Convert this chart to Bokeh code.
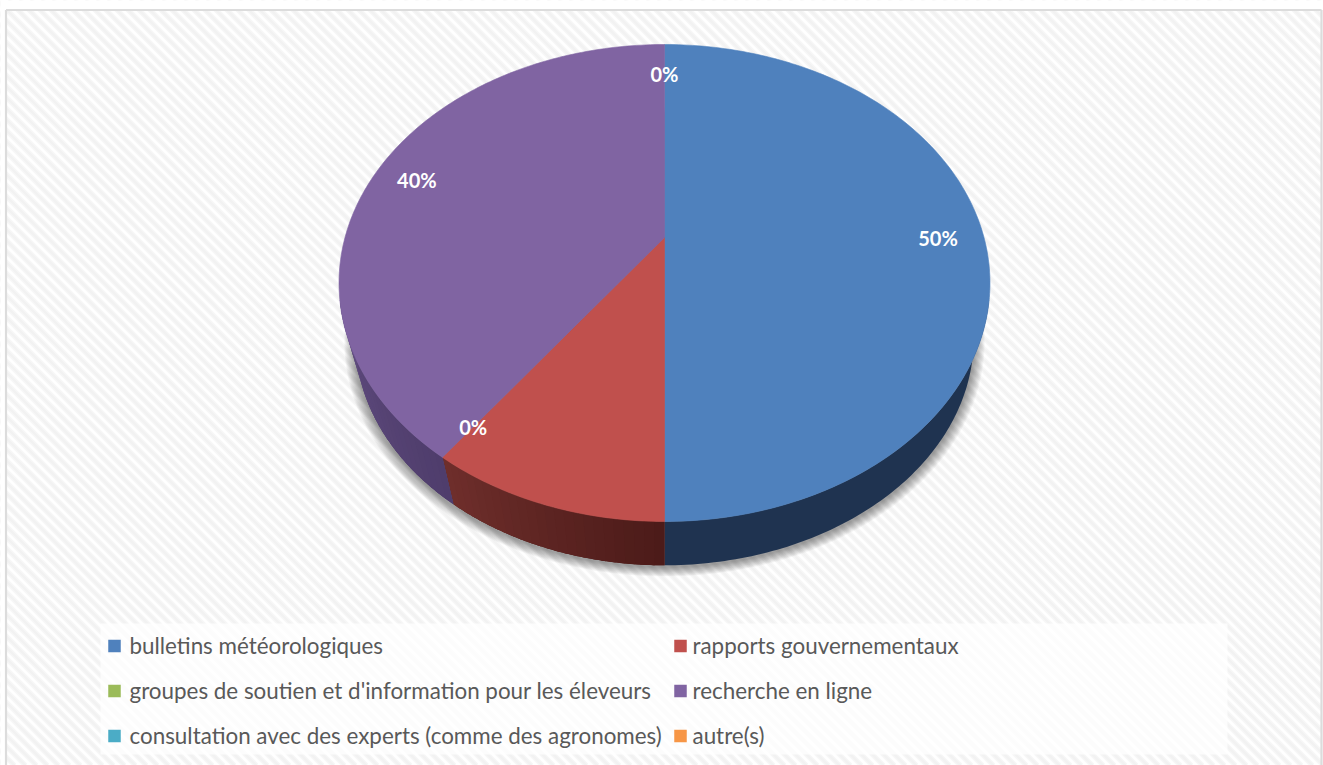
import numpy as np
from bokeh.core.properties import value
from bokeh.embed import file_html
from bokeh.models import Range1d
from bokeh.plotting import figure
from bokeh.resources import INLINE

WIDTH, HEIGHT = 1323, 765

# Survey shares, clockwise from twelve o'clock
categories = [
    "bulletins météorologiques",
    "rapports gouvernementaux",
    "groupes de soutien et d'information pour les éleveurs",
    "recherche en ligne",
    "consultation avec des experts (comme des agronomes)",
    "autre(s)",
]
shares = [50, 10, 0, 40, 0, 0]
top_colors = ["#4f81bd", "#c0504d", "#9bbb59", "#8064a2", "#4bacc6", "#f79646"]
side_near = ["#1f3350", "#4c1b19", "#5f7436", "#4f3d6c", "#2d6a7c", "#a3621f"]
side_far = ["#1f3350", "#702f2c", "#5f7436", "#5f4b7e", "#2d6a7c", "#a3621f"]

# Which slices carry a label, and how far out along their mid-angle it sits
label_radius = [0.856, None, 0.88, 0.856, 0.826, None]

# Tilted-disc projection of the pie
CX, CY = 664.0, 237.0
A, B, K = 319.5, 229.8, 0.1908
LOWER_SCALE, LOWER_CY = 0.95, 295.0
WALL_FROM, WALL_TO = np.radians(105), np.radians(255)
SHADE_SPAN = np.radians(36)


def project(theta, radius=1.0, scale=1.0, cy=CY):
    u = radius * np.sin(theta)
    v = radius * np.cos(theta)
    w = 1 + K * v
    return CX + scale * A * u / w, cy + scale * B * (-v) / w


def hex_rgb(h):
    return np.array([int(h[i:i + 2], 16) for i in (1, 3, 5)], dtype=float)


def mix(c1, c2, t):
    r, g, b = (hex_rgb(c1) * (1 - t) + hex_rgb(c2) * t).round().astype(int)
    return f"#{r:02x}{g:02x}{b:02x}"


p = figure(
    width=WIDTH, height=HEIGHT, output_backend="svg", toolbar_location=None,
    x_range=Range1d(0, WIDTH), y_range=Range1d(HEIGHT, 0),
    min_border=0, outline_line_color=None, background_fill_color="white",
    border_fill_color="white",
)
p.axis.visible = False
p.grid.visible = False

# Chart area: diagonal pinstripes inside a grey frame
FRAME_L, FRAME_T, FRAME_R = 5.5, 9.5, 1321.0
STRIPE_STEP = 11.0
starts = np.arange(-HEIGHT, WIDTH + STRIPE_STEP, STRIPE_STEP) + 3
p.segment(starts, [0] * len(starts), starts + HEIGHT, [HEIGHT] * len(starts),
          line_color="#f7f7f7", line_width=5.2)
p.segment(starts, [0] * len(starts), starts + HEIGHT, [HEIGHT] * len(starts),
          line_color="#f2f2f2", line_width=2.6)
p.quad(left=[0, 0, FRAME_R], right=[FRAME_L, WIDTH, WIDTH], top=[0, 0, 0],
       bottom=[HEIGHT, FRAME_T, HEIGHT], fill_color="white", line_color=None)
p.segment([FRAME_L, FRAME_L, FRAME_R], [HEIGHT, FRAME_T, FRAME_T],
          [FRAME_L, FRAME_R, FRAME_R], [FRAME_T, FRAME_T, HEIGHT],
          line_color="#dcdcdc", line_width=2.2)

# Soft drop shadow under the rim
circle = np.radians(np.arange(0, 360, 1.0))
for grow in range(11, 0, -1):
    sx, sy = project(circle, scale=LOWER_SCALE * (1 + grow / 310), cy=LOWER_CY + 1.5)
    p.patch(sx, sy, fill_color="#000000", fill_alpha=0.04, line_color=None)

# Slice boundaries in radians
edges = np.radians(np.cumsum([0] + shares) * 3.6)

# Side wall: a solid band per slice, then shading strips where the tone changes
for i, share in enumerate(shares):
    if share == 0:
        continue
    start, stop = max(edges[i], WALL_FROM), min(edges[i + 1], WALL_TO)
    if stop <= start:
        continue
    angles = np.linspace(start, stop, 90)
    ux, uy = project(angles)
    lx, ly = project(angles, scale=LOWER_SCALE, cy=LOWER_CY)
    p.patch(np.r_[ux, lx[::-1]], np.r_[uy, ly[::-1]],
            fill_color=side_near[i], line_color=None)
    if side_near[i] == side_far[i]:
        continue
    steps = 24
    cuts = np.linspace(start, stop, steps + 1)
    overlap = (stop - start) / steps * 0.5
    xs, ys, fills = [], [], []
    for j in range(steps):
        a0, a1 = cuts[j], min(cuts[j + 1] + overlap, stop)
        arc = np.linspace(a0, a1, 5)
        ax, ay = project(arc)
        bx, by = project(arc, scale=LOWER_SCALE, cy=LOWER_CY)
        xs.append(np.r_[ax, bx[::-1]])
        ys.append(np.r_[ay, by[::-1]])
        t = np.clip((cuts[j] - edges[i]) / SHADE_SPAN, 0, 1)
        fills.append(mix(side_near[i], side_far[i], t))
    p.patches(xs, ys, fill_color=fills, line_color=None)

# Upper face; a hairline in each slice's own colour closes the seams
for i, share in enumerate(shares):
    if share == 0:
        continue
    angles = np.linspace(edges[i], edges[i + 1], int(share * 3.6) + 2)
    rx, ry = project(angles)
    p.patch(np.r_[CX, rx], np.r_[CY, ry], fill_color=top_colors[i],
            line_color=top_colors[i], line_width=0.6)

# Percent labels
lx, ly, lt = [], [], []
for i, radius in enumerate(label_radius):
    if radius is None:
        continue
    x, y = project((edges[i] + edges[i + 1]) / 2, radius=radius)
    lx.append(float(x))
    ly.append(float(y))
    lt.append(f"{shares[i]}%")
p.text(lx, ly, text=lt, text_color="white", text_font=value("Lato"),
       text_font_size="20px", text_font_style="bold",
       text_align="center", text_baseline="middle")

# Legend: a pale panel with two columns and three rows
p.quad(left=[100], right=[1227], top=[623], bottom=[754],
       fill_color="white", fill_alpha=0.72, line_color=None)
col_x = [108, 674]
col_text_x = [129, 692]
row_y = [645.5, 690.5, 735.5]
swatch_x = [col_x[i % 2] for i in range(len(categories))]
text_x = [col_text_x[i % 2] for i in range(len(categories))]
swatch_y = [row_y[i // 2] for i in range(len(categories))]
p.rect(np.array(swatch_x) + 6, swatch_y, width=12.5, height=12.5,
       fill_color=top_colors, line_color=None)
p.text(text_x, np.array(swatch_y) - 1, text=categories, text_color="#595959",
       text_font=value("Lato"), text_font_size="22.4px",
       text_align="left", text_baseline="alphabetic")

open("out.html", "w").write(file_html(p, INLINE))
